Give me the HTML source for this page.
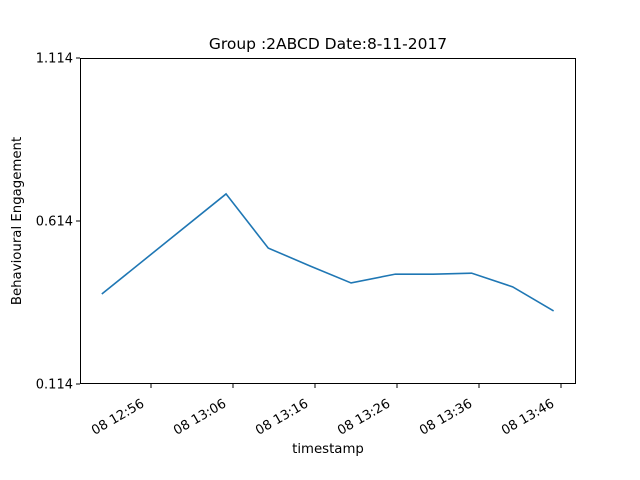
<!DOCTYPE html>
<html><head><meta charset="utf-8"><style>
body{margin:0;background:#fff;}
svg{display:block;font-family:"DejaVu Sans","Liberation Sans",sans-serif;}
</style></head><body>
<svg id="chart" width="640" height="480">
<text x="328" y="49" text-anchor="middle" font-size="15.5">Group :2ABCD Date:8-11-2017</text>
<g id="yticks"></g><g id="xticks"></g>
<polyline id="line" fill="none" stroke="#1f77b4" stroke-width="1.6"/>
<rect x="80.5" y="58.5" width="495" height="325" fill="none" stroke="#000" stroke-width="1"/>
<text x="328" y="453" text-anchor="middle" font-size="13.3">timestamp</text>
<text transform="translate(21,221) rotate(-90)" text-anchor="middle" font-size="13.3">Behavioural Engagement</text>
</svg>
<script>
// minutes after 08 12:56
const times=[-6,9.15,14.3,19.4,24.4,29.8,34.4,39.1,44.1,49.1];
const values=[0.390,0.697,0.531,0.476,0.424,0.451,0.451,0.454,0.412,0.338];
const yTicks=[0.114,0.614,1.114];
const xTickMins=[0,10,20,30,40,50];
const xTickLabels=["08 12:56","08 13:06","08 13:16","08 13:26","08 13:36","08 13:46"];
const X0=80,X1=576,Y0=384,Y1=58,tMin=-8.66,tMax=51.83,vMin=0.114,vMax=1.114;
function sx(t){return X0+(t-tMin)/(tMax-tMin)*(X1-X0);}
function sy(v){return Y0-(v-vMin)/(vMax-vMin)*(Y0-Y1);}
const NS="http://www.w3.org/2000/svg";
document.getElementById('line').setAttribute('points',times.map((t,i)=>sx(t)+','+sy(values[i])).join(' '));
const yg=document.getElementById('yticks');
yTicks.forEach(v=>{
 const y=sy(v);
 const l=document.createElementNS(NS,'line');
 l.setAttribute('x1',76);l.setAttribute('x2',80);l.setAttribute('y1',y);l.setAttribute('y2',y);l.setAttribute('stroke','#000');
 
 
 yg.appendChild(l);
 const t=document.createElementNS(NS,'text');
 t.setAttribute('x',73);t.setAttribute('y',y+4.5);t.setAttribute('text-anchor','end');t.setAttribute('font-size','13');
 t.textContent=v.toFixed(3);
 
 
 yg.appendChild(t);
});
const xg=document.getElementById('xticks');
xTickMins.forEach((m,i)=>{
 const x=sx(m);
 const l=document.createElementNS(NS,'line');
 l.setAttribute('x1',x);l.setAttribute('x2',x);l.setAttribute('y1',384);l.setAttribute('y2',388);l.setAttribute('stroke','#000');
 
 
 xg.appendChild(l);
 const t=document.createElementNS(NS,'text');
 t.setAttribute('transform','translate('+(x-6)+',406) rotate(-30)');
 t.setAttribute('text-anchor','end');t.setAttribute('font-size','13');
 t.textContent=xTickLabels[i];
 
 
 xg.appendChild(t);
});
</script>
</body></html>
